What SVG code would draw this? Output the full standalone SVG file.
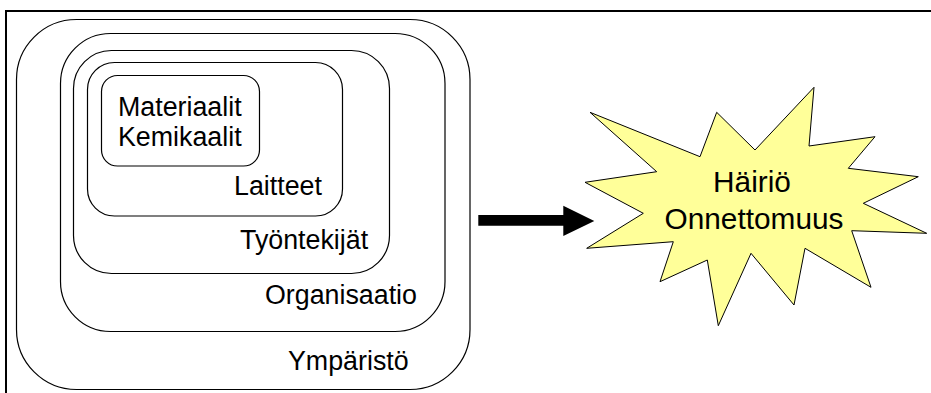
<svg xmlns="http://www.w3.org/2000/svg" width="931" height="393" viewBox="0 0 931 393">
<style>
.box{fill:none;stroke:#000;stroke-width:1.2}
.lbl{font-family:"Liberation Sans",Arial,sans-serif;font-size:26.8px;fill:#000}
.star{font-family:"Liberation Sans",Arial,sans-serif;font-size:29.8px;fill:#000}
</style>
<rect width="931" height="393" fill="#fff"/>
<g id="frame">
<path d="M6 393 V11 H931" fill="none" stroke="#000" stroke-width="2"/>
</g>
<g id="ymparisto">
<rect class="box" x="16.5" y="19.5" width="453.5" height="370" rx="60" ry="60"/>
<text class="lbl" x="288" y="370">Ympäristö</text>
</g>
<g id="organisaatio">
<rect class="box" x="60.5" y="33.5" width="384.5" height="298" rx="50" ry="50"/>
<text class="lbl" x="265" y="304">Organisaatio</text>
</g>
<g id="tyontekijat">
<rect class="box" x="73.5" y="50.5" width="316" height="223" rx="38" ry="38"/>
<text class="lbl" x="240" y="249">Työntekijät</text>
</g>
<g id="laitteet">
<rect class="box" x="87.5" y="62.5" width="255" height="153.5" rx="27" ry="27"/>
<text class="lbl" x="234" y="195">Laitteet</text>
</g>
<g id="materiaalit">
<rect class="box" x="101.5" y="75.5" width="158" height="90.5" rx="16" ry="16"/>
<text class="lbl" x="118" y="116">Materiaalit</text>
<text class="lbl" x="118" y="146">Kemikaalit</text>
</g>
<g id="connectors">
<path d="M478.3 215 H563.3 V205.7 L594.3 221 L563.3 236 V225.7 H478.3 Z" fill="#000"/>
</g>
<g id="hairio">
<polygon points="590,112.3 700,156.7 716.7,112.3 755,150 814,87.3 809,146 875,136.7 848.3,168.3 918.3,176.7 863.3,203.3 926.7,233.3 851.7,230.7 871,287.3 805,248.3 794,305 751,253.3 718.3,325.7 707.3,260 660,281.7 673.3,241.7 586.7,248.3 643.3,213.3 585,182.3 656.7,171.7" fill="#FFFF99" stroke="#000" stroke-width="1"/>
<text class="star" x="752" y="192" text-anchor="middle">Häiriö</text>
<text class="star" x="754" y="228.5" text-anchor="middle">Onnettomuus</text>
</g>
</svg>
